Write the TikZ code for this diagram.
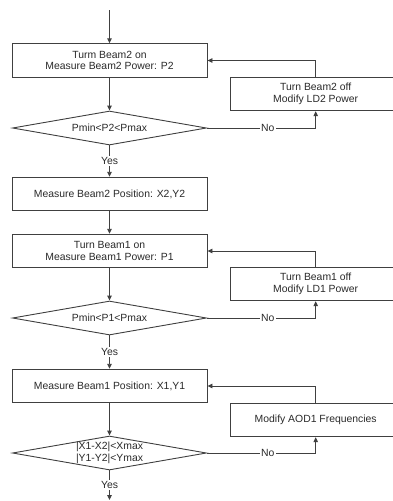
\documentclass[tikz,border=0pt]{standalone}
\usepackage{fontspec}
\setmainfont{Liberation Sans}
\usetikzlibrary{shapes.geometric,arrows.meta}
\definecolor{ln}{HTML}{404040}
\definecolor{tx}{HTML}{2A2A2A}
\begin{document}
\begin{tikzpicture}[x=1pt,y=-1pt,
  font=\fontsize{10.4}{11.7}\selectfont,
  box/.style={draw=ln, line width=0.9pt, rectangle, minimum width=195pt, minimum height=33.5pt, inner sep=0pt, align=center, text=tx},
  rbox/.style={box, minimum width=171.4pt},
  dia/.style={draw=ln, line width=0.9pt, diamond, minimum width=194pt, minimum height=34pt, inner sep=0pt},
  txt/.style={align=center, text=tx, inner sep=0pt},
  lbl/.style={fill=white, text=tx, inner sep=1.5pt},
  arr/.style={draw=ln, line width=0.9pt, -{Triangle[length=5pt,width=4.5pt]}}]
\useasboundingbox[fill=white] (0,0) rectangle (392,501);
% nodes
\coordinate (start) at (109.5,10);
\node[box] (b1) at (109.5,60.5) {Turm Beam2 on\\Measure Beam2 Power: P2};
\node[dia] (d1) at (109.5,128) {};
\node[txt] (d1t) at (d1.center) {Pmin<P2<Pmax};
\node[rbox] (r1) at (315.7,94) {Turn Beam2 off\\Modify LD2 Power};
\node[box] (b3) at (109.5,194) {Measure Beam2 Position: X2,Y2};
\node[box] (b4) at (109.5,251) {Turn Beam1 on\\Measure Beam1 Power: P1};
\node[dia] (d2) at (109.5,318) {};
\node[txt] (d2t) at (d2.center) {Pmin<P1<Pmax};
\node[rbox] (r2) at (315.7,284) {Turn Beam1 off\\Modify LD1 Power};
\node[box] (b5) at (109.5,386) {Measure Beam1 Position: X1,Y1};
\node[dia] (d3) at (109.5,453) {};
\node[txt] (d3t) at (d3.center) {|X1-X2|<Xmax\\|Y1-Y2|<Ymax};
\node[rbox] (r3) at (315.7,420) {Modify AOD1 Frequencies};
\coordinate (end) at (109.5,500);
% connectors
\draw[arr] (start) -- (b1.north);
\draw[arr] (b1.south) -- (d1.north);
\draw[arr] (d1.east) -| node[lbl,pos=0.28]{No} (r1.south);
\draw[arr] (r1.north) |- (b1.east);
\draw[arr] (d1.south) -- node[lbl]{Yes} (b3.north);
\draw[arr] (b3.south) -- (b4.north);
\draw[arr] (b4.south) -- (d2.north);
\draw[arr] (d2.east) -| node[lbl,pos=0.28]{No} (r2.south);
\draw[arr] (r2.north) |- (b4.east);
\draw[arr] (d2.south) -- node[lbl]{Yes} (b5.north);
\draw[arr] (b5.south) -- (d3.north);
\draw[arr] (d3.east) -| node[lbl,pos=0.28]{No} (r3.south);
\draw[arr] (r3.north) |- (b5.east);
\draw[arr] (d3.south) -- node[lbl]{Yes} (end);
\end{tikzpicture}
\end{document}
